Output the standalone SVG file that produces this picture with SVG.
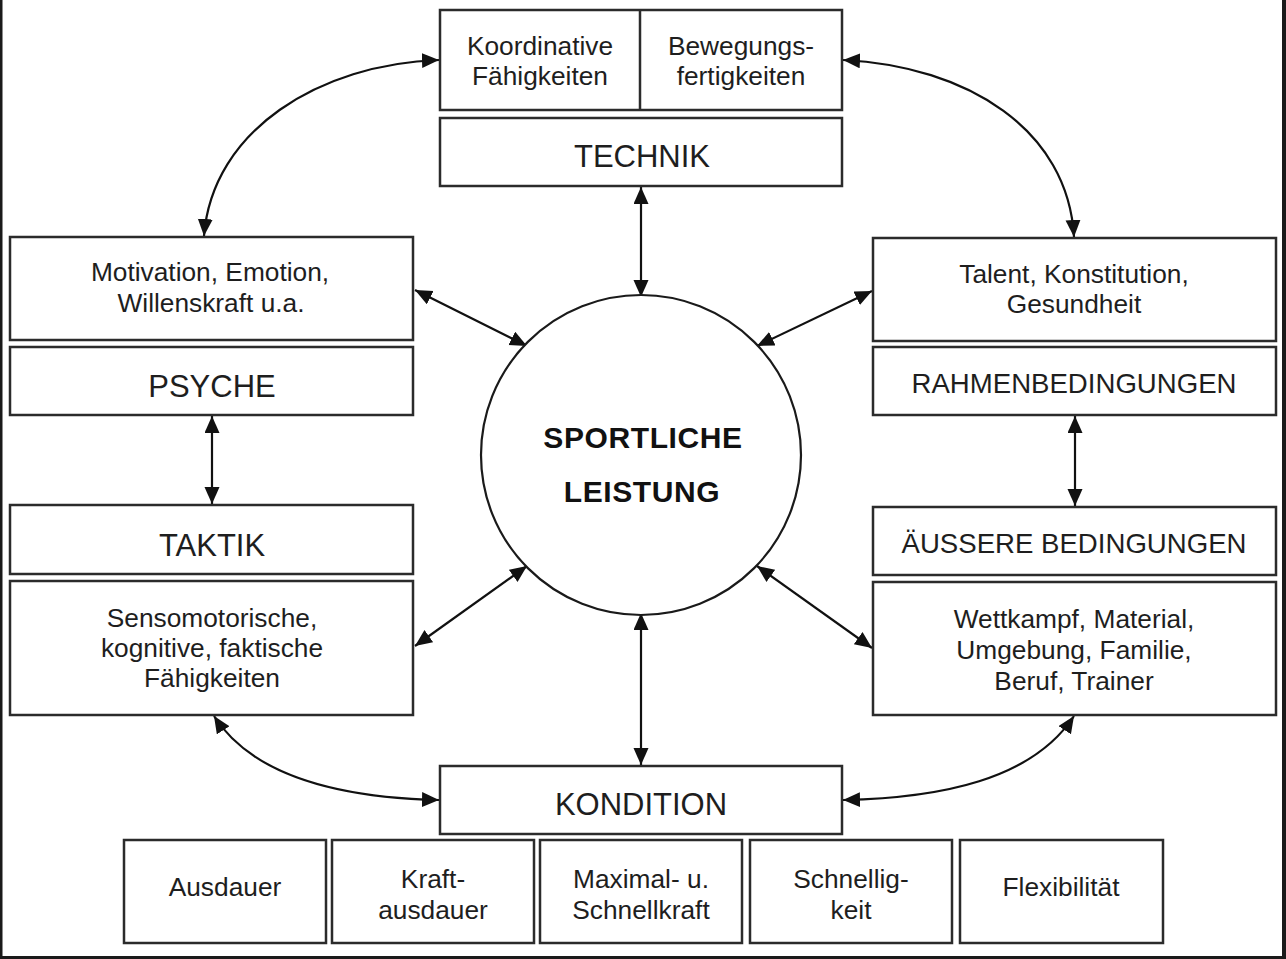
<svg xmlns="http://www.w3.org/2000/svg" width="1286" height="959" viewBox="0 0 1286 959">
<style>
.box{fill:#fff;stroke:#2b2b2b;stroke-width:2.5}
.t{font-family:"Liberation Sans",Arial,sans-serif;font-size:26.3px;fill:#1e1e1e;text-anchor:middle}
.T{font-family:"Liberation Sans",Arial,sans-serif;font-size:31px;fill:#1e1e1e;text-anchor:middle}
.B{font-family:"Liberation Sans",Arial,sans-serif;font-size:30px;font-weight:bold;fill:#111;text-anchor:middle;letter-spacing:0.6px}
.c{fill:none;stroke:#111;stroke-width:2.2;marker-start:url(#ah);marker-end:url(#ah)}
</style>
<defs>
<marker id="ah" markerUnits="userSpaceOnUse" markerWidth="20" markerHeight="18" refX="17" refY="7.5" orient="auto-start-reverse">
<path d="M0,0 L17,7.5 L0,15 z" fill="#111"/>
</marker>
</defs>
<rect width="1286" height="959" fill="#fff"/>
<rect x="0" y="0" width="2.5" height="959" fill="#1a1a1a"/>
<rect x="1282" y="0" width="4" height="959" fill="#1a1a1a"/>
<rect x="0" y="956" width="1286" height="3" fill="#1a1a1a"/>

<g id="connectors">
<path class="c" d="M641,187 L641,297"/>
<path class="c" d="M641,613 L641,765"/>
<path class="c" d="M212,416 L212,504"/>
<path class="c" d="M1075,416 L1075,506"/>
<path class="c" d="M415,290 L527,346"/>
<path class="c" d="M872,291 L757,346"/>
<path class="c" d="M527,566 L415,646"/>
<path class="c" d="M757,566 L872,648"/>
<path class="c" d="M204,236 C212,130 320,64 439,60"/>
<path class="c" d="M843,60 C968,66 1068,130 1074,237"/>
<path class="c" d="M214,716 C255,780 350,798 439,800"/>
<path class="c" d="M1074,716 C1032,780 940,798 843,800"/>
</g>

<g id="technik-sub">
<rect class="box" x="440" y="10" width="402" height="100"/>
<line x1="640" y1="10" x2="640" y2="110" stroke="#2b2b2b" stroke-width="2.5"/>
<text class="t" x="540" y="55">Koordinative</text>
<text class="t" x="540" y="85">Fähigkeiten</text>
<text class="t" x="741" y="55">Bewegungs-</text>
<text class="t" x="741" y="85">fertigkeiten</text>
</g>
<g id="technik">
<rect class="box" x="440" y="118" width="402" height="68"/>
<text class="T" x="642" y="167">TECHNIK</text>
</g>

<g id="psyche-sub">
<rect class="box" x="10" y="237" width="403" height="103"/>
<text class="t" x="210" y="281">Motivation, Emotion,</text>
<text class="t" x="211" y="312">Willenskraft u.a.</text>
</g>
<g id="psyche">
<rect class="box" x="10" y="347" width="403" height="68"/>
<text class="T" x="212" y="397">PSYCHE</text>
</g>
<g id="taktik">
<rect class="box" x="10" y="505" width="403" height="69"/>
<text class="T" x="212" y="556">TAKTIK</text>
</g>
<g id="taktik-sub">
<rect class="box" x="10" y="581" width="403" height="134"/>
<text class="t" x="212" y="627">Sensomotorische,</text>
<text class="t" x="212" y="657">kognitive, faktische</text>
<text class="t" x="212" y="687">Fähigkeiten</text>
</g>

<g id="rahmen-sub">
<rect class="box" x="873" y="238" width="403" height="103"/>
<text class="t" x="1074" y="283">Talent, Konstitution,</text>
<text class="t" x="1074" y="313">Gesundheit</text>
</g>
<g id="rahmen">
<rect class="box" x="873" y="347" width="403" height="68"/>
<text class="t" x="1074" y="393" style="font-size:27.6px">RAHMENBEDINGUNGEN</text>
</g>
<g id="aeussere">
<rect class="box" x="873" y="507" width="403" height="68"/>
<text class="t" x="1074" y="553" style="font-size:27.6px">ÄUSSERE BEDINGUNGEN</text>
</g>
<g id="aeussere-sub">
<rect class="box" x="873" y="582" width="403" height="133"/>
<text class="t" x="1074" y="628">Wettkampf, Material,</text>
<text class="t" x="1074" y="659">Umgebung, Familie,</text>
<text class="t" x="1074" y="690">Beruf, Trainer</text>
</g>

<g id="leistung">
<circle cx="641" cy="455" r="160" fill="#fff" stroke="#1a1a1a" stroke-width="2.2"/>
<text class="B" x="643" y="448">SPORTLICHE</text>
<text class="B" x="642" y="502">LEISTUNG</text>
</g>

<g id="kondition">
<rect class="box" x="440" y="766" width="402" height="68"/>
<text class="T" x="641" y="815">KONDITION</text>
</g>
<g id="ausdauer">
<rect class="box" x="124" y="840" width="202" height="103"/>
<text class="t" x="225" y="896">Ausdauer</text>
</g>
<g id="kraftausdauer">
<rect class="box" x="332" y="840" width="202" height="103"/>
<text class="t" x="433" y="888">Kraft-</text>
<text class="t" x="433" y="919">ausdauer</text>
</g>
<g id="maximalkraft">
<rect class="box" x="540" y="840" width="202" height="103"/>
<text class="t" x="641" y="888">Maximal- u.</text>
<text class="t" x="641" y="919">Schnellkraft</text>
</g>
<g id="schnelligkeit">
<rect class="box" x="750" y="840" width="202" height="103"/>
<text class="t" x="851" y="888">Schnellig-</text>
<text class="t" x="851" y="919">keit</text>
</g>
<g id="flexibilitaet">
<rect class="box" x="960" y="840" width="203" height="103"/>
<text class="t" x="1061" y="896">Flexibilität</text>
</g>
</svg>
